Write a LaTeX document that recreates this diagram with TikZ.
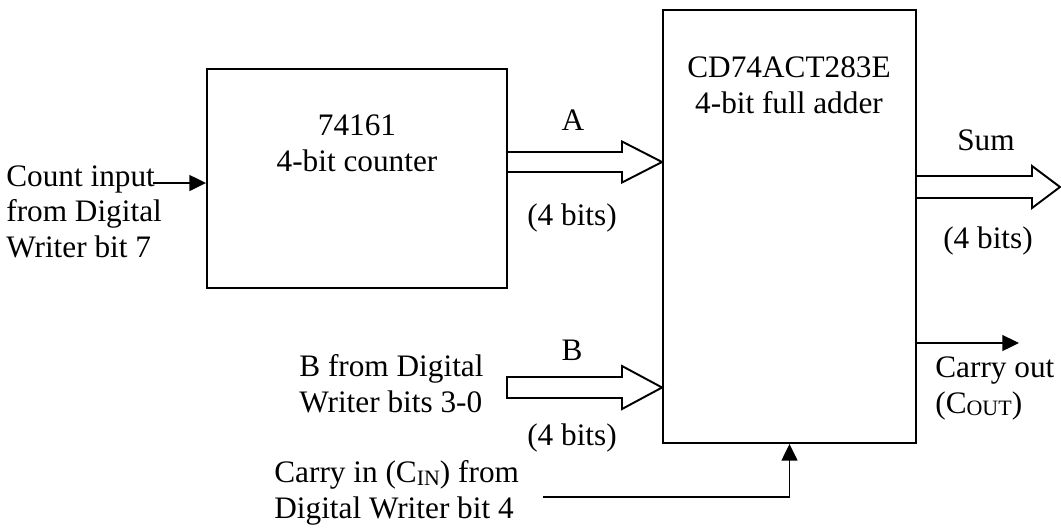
\documentclass[tikz,border=0pt]{standalone}
\usepackage{fontspec}
\setmainfont{Liberation Serif}
\usetikzlibrary{arrows.meta}
\newcommand{\subcap}[1]{\raisebox{-1.5pt}{\fontsize{12.5}{12}\selectfont #1}}

\begin{document}
\begin{tikzpicture}[x=0.02cm, y=-0.02cm,
            every node/.style={font=\fontsize{17.8}{20.2}\selectfont, inner sep=0pt},
            blok/.style={draw, rectangle, line width=1.1pt},
            lbl/.style={anchor=base, align=center},
            lleft/.style={anchor=base west, align=left},
            bus/.style={draw, line width=1.1pt, line join=miter},
            sig/.style={line width=1.1pt, -{Triangle[length=9.5pt,width=9pt]}}]
            \useasboundingbox (0,0) rectangle (1061,529);
            % the two chips
            \node[blok, minimum width=6cm, minimum height=4.38cm] (cnt) at (357,178.5) {};
            \node[blok, minimum width=5.06cm, minimum height=8.66cm] (add) at (789.5,226.5) {};
            \node[lbl] (cnttxt) at (357,171) {74161\\4-bit counter};
            \node[lbl] (addtxt) at (789,113) {CD74ACT283E\\4-bit full adder};

            % labels
            \node[lbl] (alab)    at (573,130) {A};
            \node[lbl] (abits)   at (572,225) {(4 bits)};
            \node[lbl] (blab)    at (572,360) {B};
            \node[lbl] (bbits)   at (572,445) {(4 bits)};
            \node[lbl] (sumlab)  at (986,150) {Sum};
            \node[lbl] (sumbits) at (988,248) {(4 bits)};
            \node[lleft] (cntin) at (6,257)   {Count input\\from Digital\\Writer bit 7};
            \node[lleft] (bin)   at (299,412) {B from Digital\\Writer bits 3-0};
            \node[lleft] (cin)   at (274,518) {Carry in (C\subcap{IN}) from\\Digital Writer bit 4};
            \node[lleft] (cout)  at (935,413) {Carry out\\(C\subcap{OUT})};

            % 4-bit buses
            \draw[bus] (cnt.east |- 0,152) -| (622,141.5) -- (add.west |- 0,162)
                       -- (622,182.5) |- (cnt.east |- 0,172);
            \draw[bus] (507,377) -| (622,366) -- (add.west |- 0,387.5)
                       -- (622,409) |- (507,398) -- cycle;
            \draw[bus] (add.east |- 0,176) -| (1032,166) -- (1060,187)
                       -- (1032,208) |- (add.east |- 0,198);

            % single lines
            \coordinate (cntsrc) at (153,183);
            \coordinate (cinsrc) at (543,497);
            \coordinate (coutdst) at (1019,343);
            \draw[sig] (cntsrc) -- (cnt.west |- cntsrc);
            \draw[sig] (cinsrc) -| (add.south);
            \draw[sig] (add.east |- coutdst) -- (coutdst);
        \end{tikzpicture}
\end{document}
